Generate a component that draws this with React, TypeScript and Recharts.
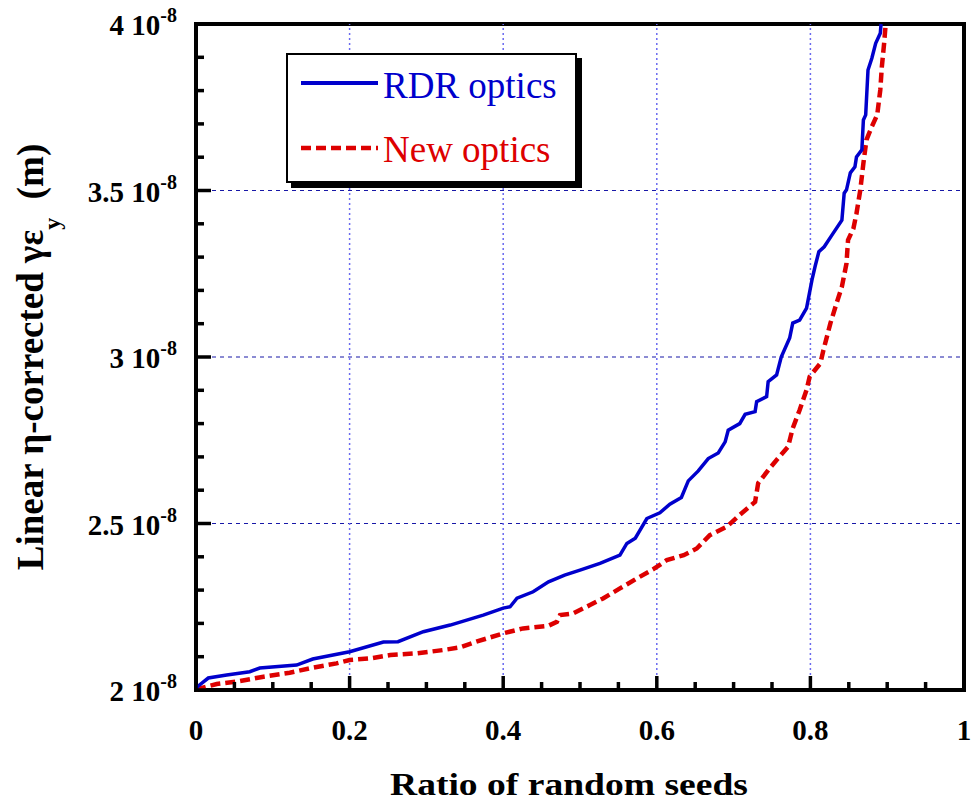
import React from 'react';
import { LineChart, Line, XAxis, YAxis, ReferenceLine, ReferenceArea } from 'recharts';

// ratio of random seeds vs emittance (in units of 1e-8 m)
const rdrRatio = [
  0.0, 0.003, 0.016, 0.04, 0.07, 0.083, 0.131, 0.152, 0.2, 0.244, 0.263, 0.296, 0.331, 0.374,
  0.4, 0.409, 0.418, 0.439, 0.459, 0.48, 0.5, 0.526, 0.552, 0.561, 0.572, 0.587, 0.604, 0.617,
  0.632, 0.641, 0.654, 0.667, 0.68, 0.689, 0.693, 0.708, 0.715, 0.728, 0.73, 0.743, 0.745,
  0.756, 0.762, 0.773, 0.777, 0.786, 0.795, 0.802, 0.806, 0.811, 0.818, 0.828, 0.841, 0.844,
  0.847, 0.852, 0.858, 0.86, 0.867, 0.869, 0.872, 0.875, 0.88, 0.885, 0.891, 0.892,
];
const rdrEmit = [
  2.005, 2.012, 2.036, 2.045, 2.055, 2.066, 2.075, 2.093, 2.115, 2.144, 2.145, 2.175, 2.195, 2.225,
  2.246, 2.25, 2.276, 2.295, 2.325, 2.345, 2.36, 2.38, 2.405, 2.44, 2.456, 2.515, 2.532, 2.558,
  2.578, 2.628, 2.658, 2.695, 2.712, 2.745, 2.78, 2.8, 2.828, 2.836, 2.866, 2.881, 2.926,
  2.946, 3.0, 3.057, 3.102, 3.111, 3.147, 3.231, 3.271, 3.316, 3.331, 3.366, 3.411, 3.492,
  3.502, 3.553, 3.571, 3.601, 3.622, 3.712, 3.727, 3.862, 3.897, 3.942, 3.972, 4.0,
];

const newRatio = [
  0.0, 0.027, 0.053, 0.088, 0.122, 0.148, 0.183, 0.2, 0.227, 0.253, 0.287, 0.322, 0.344, 0.365,
  0.383, 0.4, 0.426, 0.459, 0.47, 0.474, 0.491, 0.513, 0.53, 0.552, 0.574, 0.595, 0.613, 0.635,
  0.652, 0.669, 0.691, 0.708, 0.728, 0.732, 0.747, 0.758, 0.771, 0.777, 0.786, 0.795, 0.799,
  0.813, 0.817, 0.826, 0.834, 0.841, 0.847, 0.849, 0.856, 0.86, 0.865, 0.869, 0.873, 0.88,
  0.887, 0.891, 0.893, 0.896, 0.898,
];
const newEmit = [
  2.002, 2.018, 2.025, 2.04, 2.052, 2.065, 2.08, 2.09, 2.095, 2.105, 2.11, 2.12, 2.128, 2.145,
  2.158, 2.17, 2.185, 2.193, 2.205, 2.225, 2.23, 2.255, 2.275, 2.305, 2.335, 2.362, 2.39, 2.405,
  2.425, 2.465, 2.49, 2.526, 2.565, 2.621, 2.666, 2.696, 2.731, 2.786, 2.841, 2.901, 2.941,
  2.981, 3.021, 3.101, 3.161, 3.211, 3.281, 3.351, 3.386, 3.431, 3.502, 3.582, 3.652, 3.692,
  3.727, 3.802, 3.871, 3.942, 4.0,
];

const xTicks = [0, 0.05, 0.1, 0.15, 0.2, 0.25, 0.3, 0.35, 0.4, 0.45, 0.5, 0.55, 0.6, 0.65, 0.7, 0.75, 0.8, 0.85, 0.9, 0.95, 1];
const xMajor = [0, 0.2, 0.4, 0.6, 0.8, 1];
const xLabels = ['0', '0.2', '0.4', '0.6', '0.8', '1'];
const xGrid = [0.2, 0.4, 0.6, 0.8];

const yTicks = [2, 2.1, 2.2, 2.3, 2.4, 2.5, 2.6, 2.7, 2.8, 2.9, 3, 3.1, 3.2, 3.3, 3.4, 3.5, 3.6, 3.7, 3.8, 3.9, 4];
const yMajor = [2, 2.5, 3, 3.5, 4];
const yLabels = ['2', '2.5', '3', '3.5', '4'];
const yGrid = [2.5, 3, 3.5];

const rdrData = rdrRatio.map((x, i) => ({ x, y: rdrEmit[i] }));
const newData = newRatio.map((x, i) => ({ x, y: newEmit[i] }));

const serif = '"Liberation Serif", "Times New Roman", serif';
const BLUE = '#0000cc';
const RED = '#dd0000';

const BottomTick = (props: any) => {
  const { x, y, payload } = props;
  const idx = xMajor.indexOf(payload.value);
  const major = idx >= 0;
  return (
    <g>
      <line x1={x} x2={x} y1={y} y2={y - (major ? 14 : 8)} stroke="#000" strokeWidth={3.5} />
      {major && (
        <text x={x} y={y + 50} textAnchor="middle" fontFamily={serif} fontWeight="bold" fontSize={29} fill="#000">
          {xLabels[idx]}
        </text>
      )}
    </g>
  );
};

const TopTick = (props: any) => {
  const { x, y, payload } = props;
  const major = xMajor.indexOf(payload.value) >= 0;
  return <line x1={x} x2={x} y1={y} y2={y + (major ? 14 : 8)} stroke="#000" strokeWidth={3.5} />;
};

const LeftTick = (props: any) => {
  const { x, y, payload } = props;
  const idx = yMajor.indexOf(payload.value);
  const major = idx >= 0;
  return (
    <g>
      <line x1={x} x2={x + (major ? 15 : 8)} y1={y} y2={y} stroke="#000" strokeWidth={3.5} />
      {major && (
        <text x={x - 19} y={y + 11} textAnchor="end" fontFamily={serif} fontWeight="bold" fontSize={29} fill="#000">
          {yLabels[idx] + ' 10'}
          <tspan dy={-13} fontSize={20}>-8</tspan>
        </text>
      )}
    </g>
  );
};

const RightTick = (props: any) => {
  const { x, y, payload } = props;
  const major = yMajor.indexOf(payload.value) >= 0;
  return <line x1={x} x2={x - (major ? 15 : 8)} y1={y} y2={y} stroke="#000" strokeWidth={3.5} />;
};

export default function App() {
  return (
    <div style={{ position: 'absolute', left: 0, top: 0, width: 971, height: 803, background: '#fff' }}>
      <LineChart width={971} height={803} margin={{ top: 0, right: 0, bottom: 0, left: 0 }}>
        <XAxis
          xAxisId="bottom"
          type="number"
          dataKey="x"
          domain={[0, 1]}
          ticks={xTicks}
          interval={0}
          orientation="bottom"
          height={113}
          axisLine={false}
          tickLine={false}
          tickSize={0}
          tickMargin={0}
          tick={<BottomTick />}
        />
        <XAxis
          xAxisId="top"
          type="number"
          dataKey="x"
          domain={[0, 1]}
          ticks={xTicks}
          interval={0}
          orientation="top"
          height={24}
          axisLine={false}
          tickLine={false}
          tickSize={0}
          tickMargin={0}
          tick={<TopTick />}
        />
        <YAxis
          yAxisId="left"
          type="number"
          domain={[2, 4]}
          ticks={yTicks}
          interval={0}
          orientation="left"
          width={196}
          axisLine={false}
          tickLine={false}
          tickSize={0}
          tickMargin={0}
          tick={<LeftTick />}
        />
        <YAxis
          yAxisId="right"
          type="number"
          domain={[2, 4]}
          ticks={yTicks}
          interval={0}
          orientation="right"
          width={7}
          axisLine={false}
          tickLine={false}
          tickSize={0}
          tickMargin={0}
          tick={<RightTick />}
        />
        {yGrid.map((v) => (
          <ReferenceLine key={'h' + v} xAxisId="bottom" yAxisId="left" y={v} stroke="#1818a8" strokeWidth={1.2} strokeDasharray="4 4" />
        ))}
        {xGrid.map((v) => (
          <ReferenceLine key={'v' + v} xAxisId="bottom" yAxisId="left" x={v} stroke="#6a6af0" strokeWidth={1.5} strokeDasharray="2 3" />
        ))}
        <Line
          xAxisId="bottom"
          yAxisId="left"
          data={newData}
          dataKey="y"
          type="linear"
          stroke={RED}
          strokeWidth={4.5}
          strokeDasharray="10 5"
          dot={false}
          isAnimationActive={false}
        />
        <Line
          xAxisId="bottom"
          yAxisId="left"
          data={rdrData}
          dataKey="y"
          type="linear"
          stroke={BLUE}
          strokeWidth={3.5}
          dot={false}
          isAnimationActive={false}
        />
        <ReferenceArea
          xAxisId="bottom"
          yAxisId="left"
          x1={0}
          x2={1}
          y1={2}
          y2={4}
          fill="none"
          fillOpacity={0}
          stroke="#000"
          strokeWidth={4}
          ifOverflow="visible"
        />
      </LineChart>

      {/* legend */}
      <div
        style={{
          position: 'absolute',
          left: 286,
          top: 53,
          width: 287,
          height: 126,
          border: '2px solid #000',
          background: '#fff',
          boxShadow: '5px 5px 0 #000',
        }}
      >
        <svg width={287} height={126} style={{ position: 'absolute', left: 0, top: 0 }}>
          <line x1={13} x2={90} y1={28} y2={28} stroke={BLUE} strokeWidth={4} />
          <line x1={13} x2={90} y1={93} y2={93} stroke={RED} strokeWidth={4.5} strokeDasharray="10 5" />
          <text x={95} y={43} fontFamily={serif} fontSize={37} fill={BLUE}>RDR optics</text>
          <text x={95} y={107} fontFamily={serif} fontSize={37} fill={RED}>New optics</text>
        </svg>
      </div>

      {/* axis titles */}
      <svg width={971} height={803} style={{ position: 'absolute', left: 0, top: 0, pointerEvents: 'none' }}>
        <text
          x={569}
          y={795}
          textAnchor="middle"
          fontFamily={serif}
          fontWeight="bold"
          fontSize={31}
          textLength={358}
          lengthAdjust="spacingAndGlyphs"
          fill="#000"
        >
          Ratio of random seeds
        </text>
        <text
          transform="rotate(-90 43 357)"
          x={43}
          y={357}
          textAnchor="middle"
          fontFamily={serif}
          fontWeight="bold"
          fontSize={37}
          fill="#000"
        >
          Linear η-corrected γε
          <tspan dy={17} fontSize={24}>y</tspan>
          <tspan dy={-17}>{'\u00a0\u00a0(m)'}</tspan>
        </text>
      </svg>
    </div>
  );
}
